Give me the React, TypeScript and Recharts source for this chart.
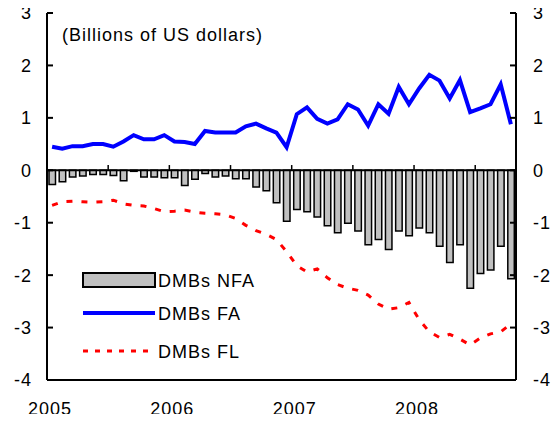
import { ComposedChart, Bar, Line, XAxis, YAxis, ReferenceLine, Legend } from 'recharts'

const MONTHS = [
  'Jan-05', 'Feb-05', 'Mar-05', 'Apr-05', 'May-05', 'Jun-05', 'Jul-05', 'Aug-05', 'Sep-05', 'Oct-05', 'Nov-05', 'Dec-05',
  'Jan-06', 'Feb-06', 'Mar-06', 'Apr-06', 'May-06', 'Jun-06', 'Jul-06', 'Aug-06', 'Sep-06', 'Oct-06', 'Nov-06', 'Dec-06',
  'Jan-07', 'Feb-07', 'Mar-07', 'Apr-07', 'May-07', 'Jun-07', 'Jul-07', 'Aug-07', 'Sep-07', 'Oct-07', 'Nov-07', 'Dec-07',
  'Jan-08', 'Feb-08', 'Mar-08', 'Apr-08', 'May-08', 'Jun-08', 'Jul-08', 'Aug-08', 'Sep-08', 'Oct-08',
]

// net foreign assets (bars)
const NFA = [
  -0.27, -0.22, -0.13, -0.11, -0.08, -0.08, -0.10, -0.20, -0.02, -0.13, -0.13, -0.14,
  -0.14, -0.29, -0.17, -0.06, -0.13, -0.11, -0.16, -0.16, -0.32, -0.39, -0.62, -0.97,
  -0.75, -0.79, -0.89, -1.06, -1.19, -1.01, -1.16, -1.42, -1.32, -1.51, -1.16, -1.25,
  -1.10, -1.19, -1.45, -1.76, -1.42, -2.25, -1.97, -1.90, -1.45, -2.07,
]

// foreign assets
const FA = [
  0.45, 0.41, 0.46, 0.46, 0.50, 0.50, 0.45, 0.55, 0.67, 0.59, 0.59, 0.67,
  0.55, 0.54, 0.50, 0.75, 0.72, 0.72, 0.72, 0.84, 0.89, 0.80, 0.72, 0.44,
  1.07, 1.20, 0.98, 0.89, 0.97, 1.26, 1.16, 0.85, 1.26, 1.08, 1.59, 1.26,
  1.56, 1.82, 1.71, 1.37, 1.72, 1.11, 1.18, 1.26, 1.64, 0.88,
]

// foreign liabilities
const FL = [
  -0.67, -0.60, -0.59, -0.60, -0.61, -0.60, -0.57, -0.64, -0.67, -0.68, -0.73, -0.79,
  -0.78, -0.76, -0.80, -0.82, -0.83, -0.85, -0.92, -1.05, -1.15, -1.22, -1.32, -1.55,
  -1.82, -1.94, -1.88, -2.05, -2.18, -2.25, -2.29, -2.38, -2.55, -2.65, -2.62, -2.52,
  -2.85, -3.08, -3.19, -3.13, -3.22, -3.33, -3.20, -3.12, -3.08, -2.93,
]

const YEAR_LABELS = ['2005', '2006', '2007', '2008']
const Y_TICKS = [-4, -3, -2, -1, 0, 1, 2, 3]

// month index where each year starts, and half-year marks on the zero line
const YEAR_STARTS = [0, 12, 24, 36]
const HALF_YEARS = [6, 12, 18, 24, 30, 36, 42]

const FONT = '"Liberation Sans", Arial, sans-serif'

const data = MONTHS.map((m, i) => ({
  month: m,
  t: i + 0.5,
  nfa: NFA[i],
  fa: FA[i],
  fl: FL[i],
}))

function LegendBox() {
  const txt = { fontFamily: FONT, fontSize: 18, letterSpacing: 1, fill: '#000' }
  return (
    <svg width={200} height={100} style={{ display: 'block' }}>
      <rect x={5} y={5} width={72} height={14} fill="#C0C0C0" stroke="#000" strokeWidth={2} />
      <text x={80} y={18.5} {...txt}>DMBs NFA</text>
      <line x1={5} x2={77} y1={45} y2={45} stroke="#0000FF" strokeWidth={4} />
      <text x={80} y={51.5} {...txt}>DMBs FA</text>
      <line x1={5} x2={74} y1={83} y2={83} stroke="#FF0000" strokeWidth={3} strokeDasharray="5 7" />
      <text x={80} y={89.5} {...txt}>DMBs FL</text>
    </svg>
  )
}

export default function App() {
  const tickStyle = { fontFamily: FONT, fontSize: 18, fill: '#000', letterSpacing: 1 }
  return (
    <div style={{ width: 560, height: 422, margin: -8, position: 'relative', background: '#fff' }}>
      <ComposedChart
        width={560}
        height={422}
        data={data}
        margin={{ top: 13, right: 0, left: 0, bottom: 0 }}
      >
        <XAxis
          dataKey="t"
          type="number"
          domain={[0, 46]}
          ticks={YEAR_STARTS}
          tickFormatter={(v) => YEAR_LABELS[YEAR_STARTS.indexOf(v)] ?? ''}
          tick={{ ...tickStyle, dx: 3 }}
          tickLine={false}
          tickSize={0}
          tickMargin={22}
          axisLine={{ stroke: '#000', strokeWidth: 2 }}
          height={42}
          interval={0}
        />
        {/* top frame edge */}
        <XAxis
          xAxisId="top"
          orientation="top"
          dataKey="t"
          type="number"
          domain={[0, 46]}
          tick={false}
          tickLine={false}
          axisLine={{ stroke: '#000', strokeWidth: 2 }}
          height={0}
        />
        <YAxis
          yAxisId="left"
          domain={[-4, 3]}
          ticks={Y_TICKS}
          tick={tickStyle}
          tickSize={-6}
          tickMargin={21}
          tickLine={{ stroke: '#000', strokeWidth: 2 }}
          axisLine={{ stroke: '#000', strokeWidth: 2 }}
          width={47}
          interval={0}
        />
        <YAxis
          yAxisId="right"
          orientation="right"
          domain={[-4, 3]}
          ticks={Y_TICKS}
          tick={tickStyle}
          tickSize={-6}
          tickMargin={23}
          tickLine={{ stroke: '#000', strokeWidth: 2 }}
          axisLine={{ stroke: '#000', strokeWidth: 2 }}
          width={44}
          interval={0}
        />
        <Bar
          yAxisId="left"
          dataKey="nfa"
          name="DMBs NFA"
          fill="#C0C0C0"
          stroke="#000"
          strokeWidth={1.5}
          barSize={6.5}
          isAnimationActive={false}
        />
        <ReferenceLine yAxisId="left" y={0} stroke="#000" strokeWidth={2} />
        {HALF_YEARS.map((m) => (
          <ReferenceLine
            key={m}
            yAxisId="left"
            segment={[{ x: m, y: 0 }, { x: m, y: 0.1 }]}
            stroke="#000"
            strokeWidth={1.5}
          />
        ))}
        <Line
          yAxisId="left"
          dataKey="fl"
          name="DMBs FL"
          type="linear"
          stroke="#FF0000"
          strokeWidth={3}
          strokeDasharray="6 9"
          dot={false}
          isAnimationActive={false}
        />
        <Line
          yAxisId="left"
          dataKey="fa"
          name="DMBs FA"
          type="linear"
          stroke="#0000FF"
          strokeWidth={4}
          dot={false}
          isAnimationActive={false}
        />
        {/* invisible series so the right and top axes get rendered */}
        <Line
          xAxisId="top"
          yAxisId="right"
          dataKey="fa"
          stroke="none"
          dot={false}
          activeDot={false}
          legendType="none"
          isAnimationActive={false}
        />
        <Legend
          layout="vertical"
          align="center"
          verticalAlign="middle"
          content={() => <LegendBox />}
          wrapperStyle={{ left: 78, top: 268, width: 200, height: 100 }}
        />
      </ComposedChart>
      <div
        style={{
          position: 'absolute',
          left: 62,
          top: 25,
          fontFamily: FONT,
          fontSize: 18,
          letterSpacing: 1,
          color: '#000',
          pointerEvents: 'none',
        }}
      >
        (Billions of US dollars)
      </div>
    </div>
  )
}
